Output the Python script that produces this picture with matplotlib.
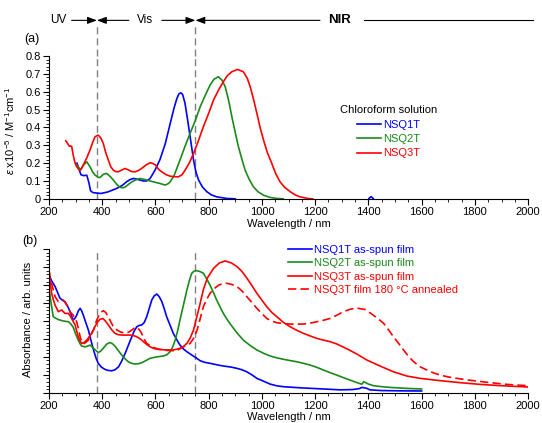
import matplotlib
matplotlib.use("Agg")
import matplotlib.pyplot as plt
from matplotlib.ticker import MultipleLocator
from matplotlib.transforms import blended_transform_factory

plt.rcParams["font.family"] = ["Liberation Sans", "DejaVu Sans"]
plt.rcParams["font.size"] = 8
plt.rcParams["mathtext.fontset"] = "custom"
plt.rcParams["mathtext.rm"] = "Liberation Sans"
plt.rcParams["mathtext.it"] = "Liberation Sans:italic"

BLUE = "#0000ff"
GREEN = "#1a8a1a"
RED = "#ff0000"
NAN = float("nan")

# (a) chloroform solution, epsilon x 1e-5 (gap between 900 and 1400 nm)
sol_nsq1t_wl = [305, 312, 320, 330, 342, 350, 356, 365, 380, 395, 420, 454, 475, 492, 505, 517, 530,
                542, 555, 567, 580, 598, 617, 637, 655, 670, 680, 688, 695, 702, 711, 720, 730, 743,
                752, 762, 777, 793, 810, 830, 868, 900, 1000, 1402, 1410, 1418]
sol_nsq1t_eps = [0.20, 0.17, 0.135, 0.13, 0.132, 0.09, 0.045, 0.035, 0.032, 0.03, 0.038, 0.058, 0.075,
                 0.096, 0.108, 0.114, 0.11, 0.105, 0.1, 0.1, 0.114, 0.16, 0.22, 0.31, 0.42, 0.51, 0.56,
                 0.588, 0.594, 0.585, 0.535, 0.45, 0.35, 0.217, 0.15, 0.105, 0.065, 0.04, 0.022, 0.011,
                 0.002, 0.0, NAN, 0.002, 0.012, 0.002]

sol_nsq2t_wl = [305, 312, 318, 324, 330, 342, 354, 364, 373, 385, 392, 405, 417, 430, 442, 455, 467,
                478, 486, 498, 511, 527, 542, 560, 580, 600, 617, 636, 648, 655, 670, 692, 710, 730,
                750, 768, 787, 805, 820, 836, 850, 862, 875, 887, 900, 912, 925, 937, 952, 968, 985,
                1006, 1030, 1056, 1080]
sol_nsq2t_eps = [0.19, 0.175, 0.16, 0.175, 0.19, 0.207, 0.18, 0.15, 0.133, 0.12, 0.12, 0.138, 0.142,
                 0.125, 0.105, 0.08, 0.064, 0.062, 0.066, 0.08, 0.095, 0.107, 0.114, 0.108, 0.1, 0.092,
                 0.086, 0.077, 0.085, 0.095, 0.13, 0.217, 0.29, 0.367, 0.44, 0.516, 0.58, 0.637, 0.67,
                 0.684, 0.665, 0.628, 0.55, 0.46, 0.37, 0.29, 0.22, 0.16, 0.11, 0.067, 0.04, 0.02,
                 0.008, 0.002, 0.0]

sol_nsq3t_wl = [263, 270, 276, 285, 291, 298, 304, 314, 322, 329, 342, 354, 365, 373, 385, 395, 404,
                413, 423, 432, 442, 452, 461, 474, 486, 498, 510, 523, 535, 548, 565, 580, 590, 600,
                612, 623, 640, 655, 670, 686, 700, 711, 727, 743, 760, 780, 800, 818, 837, 855, 870,
                887, 908, 930, 945, 956, 968, 981, 993, 1006, 1020, 1037, 1052, 1068, 1085, 1106,
                1125, 1143, 1172, 1190]
sol_nsq3t_eps = [0.325, 0.31, 0.295, 0.295, 0.245, 0.2, 0.18, 0.16, 0.17, 0.19, 0.23, 0.273, 0.32,
                 0.348, 0.357, 0.34, 0.31, 0.26, 0.217, 0.18, 0.16, 0.152, 0.152, 0.162, 0.17, 0.162,
                 0.153, 0.151, 0.158, 0.17, 0.19, 0.202, 0.198, 0.19, 0.165, 0.152, 0.135, 0.127,
                 0.124, 0.123, 0.135, 0.16, 0.2, 0.254, 0.32, 0.404, 0.48, 0.553, 0.61, 0.656, 0.69,
                 0.712, 0.725, 0.712, 0.675, 0.628, 0.56, 0.479, 0.40, 0.329, 0.26, 0.198, 0.14,
                 0.095, 0.065, 0.04, 0.022, 0.011, 0.002, 0.0]

# (b) films, absorbance (arb. units)
film_nsq1t_wl = [200, 210, 223, 232, 241, 250, 260, 268, 276, 284, 291, 298, 304, 310, 317, 323, 329,
                 338, 348, 357, 367, 376, 385, 397, 410, 423, 436, 448, 461, 473, 486, 498, 511, 520,
                 530, 540, 548, 558, 567, 577, 586, 595, 605, 614, 624, 633, 642, 655, 667, 680, 692,
                 705, 718, 737, 755, 768, 785, 805, 830, 855, 880, 906, 925, 943, 962, 981, 1000,
                 1031, 1056, 1081, 1120, 1156, 1231, 1294, 1340, 1365, 1376, 1385, 1395, 1405, 1450,
                 1520, 1600]
film_nsq1t_abs = [0.82, 0.78, 0.74, 0.70, 0.66, 0.645, 0.635, 0.61, 0.58, 0.54, 0.507, 0.52, 0.54,
                  0.57, 0.588, 0.57, 0.54, 0.49, 0.437, 0.37, 0.30, 0.245, 0.205, 0.178, 0.163, 0.155,
                  0.153, 0.16, 0.18, 0.22, 0.274, 0.33, 0.39, 0.43, 0.46, 0.47, 0.472, 0.49, 0.53,
                  0.59, 0.646, 0.675, 0.688, 0.67, 0.635, 0.585, 0.53, 0.47, 0.414, 0.37, 0.332,
                  0.305, 0.286, 0.262, 0.24, 0.223, 0.212, 0.205, 0.195, 0.186, 0.18, 0.17, 0.16,
                  0.146, 0.125, 0.10, 0.085, 0.06, 0.048, 0.042, 0.037, 0.033, 0.026, 0.02, 0.022,
                  0.028, 0.037, 0.034, 0.03, 0.02, 0.015, 0.013, 0.012]

film_nsq2t_wl = [200, 205, 210, 216, 225, 235, 254, 273, 282, 291, 300, 310, 317, 323, 335, 345, 354,
                 363, 373, 385, 394, 404, 416, 429, 438, 448, 460, 473, 486, 498, 510, 523, 536, 548,
                 565, 580, 605, 630, 643, 655, 665, 674, 683, 692, 705, 718, 727, 736, 745, 755, 767,
                 780, 792, 805, 818, 830, 843, 855, 874, 893, 912, 930, 955, 981, 1006, 1031, 1056,
                 1081, 1106, 1131, 1156, 1181, 1206, 1231, 1256, 1281, 1306, 1331, 1350, 1370, 1376,
                 1382, 1390, 1400, 1419, 1450, 1482, 1545, 1600]
film_nsq2t_abs = [0.74, 0.66, 0.6, 0.53, 0.52, 0.51, 0.50, 0.495, 0.48, 0.456, 0.41, 0.367, 0.34,
                  0.325, 0.32, 0.325, 0.332, 0.318, 0.30, 0.28, 0.29, 0.31, 0.338, 0.35, 0.342, 0.325,
                  0.295, 0.263, 0.236, 0.216, 0.205, 0.2, 0.202, 0.209, 0.225, 0.24, 0.25, 0.256,
                  0.265, 0.286, 0.32, 0.367, 0.43, 0.507, 0.61, 0.716, 0.78, 0.832, 0.848, 0.851,
                  0.845, 0.833, 0.795, 0.75, 0.698, 0.646, 0.597, 0.553, 0.497, 0.449, 0.405, 0.367,
                  0.33, 0.298, 0.275, 0.256, 0.243, 0.233, 0.224, 0.216, 0.205, 0.193, 0.177, 0.158,
                  0.14, 0.123, 0.105, 0.088, 0.075, 0.062, 0.06, 0.077, 0.07, 0.06, 0.049, 0.042,
                  0.037, 0.03, 0.026]

film_nsq3t_wl = [200, 205, 210, 216, 223, 235, 248, 260, 273, 285, 298, 304, 310, 317, 323, 332, 342,
                 351, 360, 370, 379, 390, 402, 412, 423, 435, 448, 460, 473, 490, 505, 518, 530, 543,
                 555, 568, 580, 595, 611, 642, 667, 692, 705, 718, 730, 743, 754, 765, 780, 795, 818,
                 840, 862, 885, 906, 925, 943, 962, 981, 1000, 1018, 1037, 1056, 1081, 1106, 1131,
                 1156, 1181, 1206, 1231, 1256, 1281, 1306, 1331, 1356, 1394, 1444, 1494, 1545, 1595,
                 1670, 1745, 1820, 1896, 2000]
film_nsq3t_abs = [0.844, 0.76, 0.693, 0.65, 0.61, 0.565, 0.577, 0.553, 0.553, 0.518, 0.472, 0.43,
                  0.39, 0.36, 0.344, 0.35, 0.367, 0.39, 0.414, 0.45, 0.484, 0.51, 0.518, 0.5, 0.472,
                  0.44, 0.414, 0.405, 0.402, 0.402, 0.402, 0.398, 0.39, 0.375, 0.356, 0.335, 0.32,
                  0.308, 0.302, 0.298, 0.298, 0.309, 0.322, 0.344, 0.38, 0.437, 0.52, 0.6, 0.72, 0.8,
                  0.867, 0.905, 0.919, 0.905, 0.88, 0.845, 0.80, 0.748, 0.693, 0.645, 0.60, 0.56,
                  0.53, 0.49, 0.46, 0.435, 0.414, 0.396, 0.379, 0.367, 0.356, 0.34, 0.318, 0.295,
                  0.27, 0.228, 0.186, 0.146, 0.116, 0.1, 0.084, 0.07, 0.058, 0.049, 0.04]

ann_nsq3t_wl = [200, 205, 210, 223, 235, 245, 254, 267, 279, 291, 304, 310, 317, 323, 329, 338, 348,
                357, 367, 376, 385, 395, 404, 413, 423, 432, 442, 455, 467, 480, 492, 502, 511, 520,
                530, 539, 548, 557, 567, 580, 592, 610, 630, 650, 667, 686, 705, 718, 730, 740, 749,
                757, 765, 780, 792, 805, 820, 837, 852, 868, 887, 906, 925, 943, 962, 981, 1000,
                1018, 1037, 1056, 1081, 1106, 1131, 1156, 1181, 1206, 1231, 1256, 1281, 1306, 1331,
                1357, 1388, 1419, 1440, 1457, 1475, 1494, 1513, 1532, 1550, 1570, 1595, 1620, 1645,
                1670, 1700, 1733, 1765, 1795, 1826, 1858, 1890, 1921, 1960, 2000]
ann_nsq3t_abs = [0.855, 0.80, 0.76, 0.67, 0.635, 0.64, 0.646, 0.61, 0.565, 0.54, 0.495, 0.45, 0.39,
                 0.355, 0.34, 0.35, 0.367, 0.4, 0.437, 0.49, 0.53, 0.56, 0.572, 0.56, 0.53, 0.495,
                 0.46, 0.438, 0.425, 0.418, 0.418, 0.425, 0.437, 0.45, 0.456, 0.44, 0.414, 0.375,
                 0.344, 0.328, 0.316, 0.305, 0.298, 0.294, 0.293, 0.3, 0.32, 0.33, 0.344, 0.37, 0.40,
                 0.44, 0.495, 0.6, 0.65, 0.693, 0.725, 0.75, 0.76, 0.763, 0.755, 0.74, 0.71, 0.67,
                 0.63, 0.588, 0.552, 0.518, 0.5, 0.488, 0.482, 0.479, 0.478, 0.479, 0.485, 0.495,
                 0.505, 0.518, 0.54, 0.565, 0.582, 0.59, 0.58, 0.54, 0.51, 0.484, 0.44, 0.39, 0.345,
                 0.298, 0.255, 0.216, 0.18, 0.158, 0.138, 0.123, 0.11, 0.1, 0.091, 0.084, 0.077,
                 0.07, 0.064, 0.058, 0.053, 0.049]

region_edges = [380, 750]

fig = plt.figure(figsize=(5.42, 4.23), dpi=100)
ax_a = fig.add_axes([0.0904, 0.530, 0.884, 0.3375])
ax_b = fig.add_axes([0.0904, 0.0716, 0.884, 0.339])

for ax in (ax_a, ax_b):
    ax.spines["top"].set_visible(False)
    ax.spines["right"].set_visible(False)
    ax.set_xlim(200, 2000)
    ax.xaxis.set_major_locator(MultipleLocator(200))
    ax.xaxis.set_minor_locator(MultipleLocator(50))
    ax.tick_params(which="major", direction="out", length=4, width=0.8, labelsize=8, pad=2)
    ax.tick_params(which="minor", direction="out", length=2, width=0.6)
    ax.set_xlabel("Wavelength / nm", fontsize=8, labelpad=1)
    for edge in region_edges:
        ax.axvline(edge, color="#808080", lw=1, ls=(0, (5, 3)), zorder=1)

# panel (a)
lw = 1.2
ax_a.plot(sol_nsq1t_wl, sol_nsq1t_eps, color=BLUE, lw=lw, label="NSQ1T")
ax_a.plot(sol_nsq2t_wl, sol_nsq2t_eps, color=GREEN, lw=lw, label="NSQ2T")
ax_a.plot(sol_nsq3t_wl, sol_nsq3t_eps, color=RED, lw=lw, label="NSQ3T")
ax_a.set_ylim(0, 0.8)
ax_a.yaxis.set_major_locator(MultipleLocator(0.1))
ax_a.yaxis.set_minor_locator(MultipleLocator(0.02))
ax_a.yaxis.set_major_formatter(lambda v, pos: "0" if abs(v) < 1e-9 else f"{v:.1f}")
ax_a.set_ylabel(r"$\mathit{\varepsilon}$ x10$^{-5}$ / M$^{-1}$cm$^{-1}$", fontsize=8)
ax_a.yaxis.set_label_coords(-0.066, 0.48)
ax_a.legend(title="Chloroform solution", loc="upper left", bbox_to_anchor=(0.595, 0.695),
            frameon=False, fontsize=8, title_fontsize=8, handlelength=2.2,
            handletextpad=0.15, labelspacing=0.4, borderpad=0, labelcolor="linecolor")

# panel (b)
ax_b.plot(film_nsq1t_wl, film_nsq1t_abs, color=BLUE, lw=lw, label="NSQ1T as-spun film")
ax_b.plot(film_nsq2t_wl, film_nsq2t_abs, color=GREEN, lw=lw, label="NSQ2T as-spun film")
ax_b.plot(film_nsq3t_wl, film_nsq3t_abs, color=RED, lw=lw, label="NSQ3T as-spun film")
ax_b.plot(ann_nsq3t_wl, ann_nsq3t_abs, color=RED, lw=lw, ls=(0, (5, 2.5)),
          label="NSQ3T film 180 \u00b0C annealed")
ax_b.set_ylim(0, 1)
ax_b.yaxis.set_major_locator(MultipleLocator(0.125))
ax_b.yaxis.set_minor_locator(MultipleLocator(0.025))
ax_b.tick_params(axis="y", labelleft=False)
ax_b.set_ylabel("Absorbance / arb. units", fontsize=8)
ax_b.yaxis.set_label_coords(-0.033, 0.51)
ax_b.legend(loc="upper left", bbox_to_anchor=(0.487, 1.07), frameon=False, fontsize=8,
            handlelength=2.2, handletextpad=0.15, labelspacing=0.3, borderpad=0,
            labelcolor="linecolor")

# region labels above panel (a)
trans = blended_transform_factory(ax_a.transData, ax_a.transAxes)
y_top = 1.25
for x, txt, weight, size in [(235, "UV", "normal", 8.5), (560, "Vis", "normal", 8.5),
                             (1290, "NIR", "bold", 9.5)]:
    ax_a.text(x, y_top, txt, transform=trans, ha="center", va="center", fontsize=size,
              fontweight=weight, clip_on=False)
arrow_kw = dict(arrowstyle="-|>,head_length=0.8,head_width=0.3", color="black", lw=0.8,
                shrinkA=0, shrinkB=0, mutation_scale=7)
for start, end in [(285, 380), (500, 380), (624, 750), (1218, 750)]:
    ax_a.annotate("", xy=(end, y_top), xycoords=trans, xytext=(start, y_top), textcoords=trans,
                  arrowprops=arrow_kw, annotation_clip=False)
ax_a.plot([1382, 2020], [y_top, y_top], transform=trans, color="black", lw=0.8, clip_on=False)
for edge in region_edges:
    ax_a.plot([edge, edge], [1.0, 1.22], transform=trans, color="#808080", lw=1,
              ls=(0, (5, 3)), clip_on=False)

fig.text(0.059, 0.908, "(a)", fontsize=9, ha="center", va="center")
fig.text(0.055, 0.43, "(b)", fontsize=9, ha="center", va="center")

fig.savefig("out.png", dpi=100)
